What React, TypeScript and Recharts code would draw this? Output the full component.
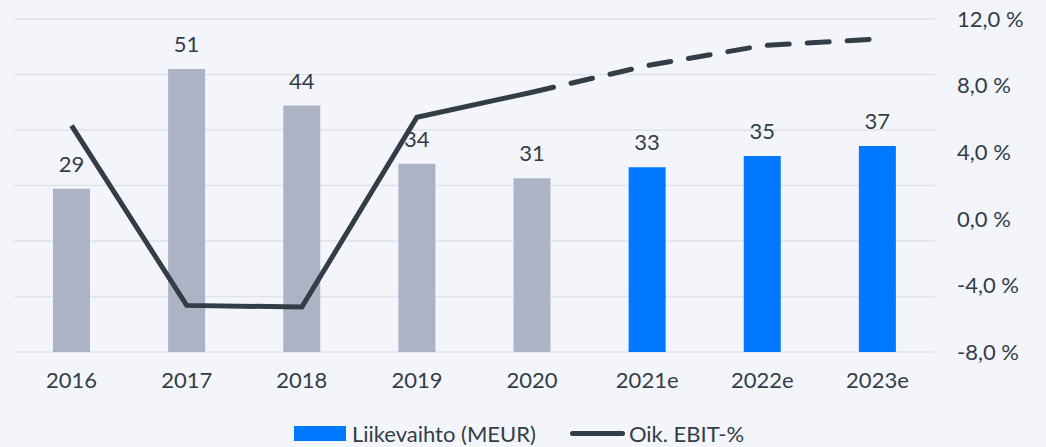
import {
  ComposedChart,
  Bar,
  Line,
  XAxis,
  YAxis,
  CartesianGrid,
  Legend,
  LabelList,
  Cell,
} from 'recharts';

const years = ['2016', '2017', '2018', '2019', '2020', '2021e', '2022e', '2023e'];
const revenue = [29.4, 51.0, 44.4, 33.9, 31.3, 33.3, 35.3, 37.1];
const ebitActual = [5.6, -5.2, -5.3, 6.1, 7.6, null, null, null];
const ebitForecast = [null, null, null, null, 7.6, 9.2, 10.4, 10.8];
const isEstimate = [false, false, false, false, false, true, true, true];
const rightTicks = [-8, -4, 0, 4, 8, 12];
const leftTicks = [0, 10, 20, 30, 40, 50, 60];

const TEXT = '#333d48';
const GREY = '#acb3c5';
const BLUE = '#0078ff';
const FONT = 'Lato, "Open Sans", sans-serif';

const data = years.map((year, i) => ({
  year,
  revenue: revenue[i],
  ebitActual: ebitActual[i],
  ebitForecast: ebitForecast[i],
}));

const fmtPct = (v: number) => `${v.toFixed(1).replace('.', ',')} %`;

const LegendBox = () => (
  <div
    style={{
      display: 'flex',
      justifyContent: 'center',
      alignItems: 'center',
      fontFamily: FONT,
      fontSize: 22,
      color: TEXT,
      paddingRight: 22,
    }}
  >
    <span style={{ display: 'inline-block', width: 52, height: 15, background: BLUE, marginRight: 6 }} />
    <span>Liikevaihto (MEUR)</span>
    <span
      style={{
        display: 'inline-block',
        width: 55,
        height: 5,
        borderRadius: 3,
        background: TEXT,
        marginLeft: 34,
        marginRight: 4,
      }}
    />
    <span>Oik. EBIT-%</span>
  </div>
);

export default function App() {
  return (
    <div style={{ position: 'absolute', left: 0, top: 0, width: 1046, height: 447, background: '#f3f5fa' }}>
      <ComposedChart
        width={1046}
        height={447}
        data={data}
        margin={{ top: 19, right: 0, bottom: 0, left: 14 }}
        style={{ fontFamily: FONT }}
      >
        <CartesianGrid yAxisId="left" vertical={false} stroke="#dfe3ea" strokeWidth={1.5} />
        <XAxis
          dataKey="year"
          axisLine={false}
          tickLine={false}
          tickMargin={14}
          height={55}
          tick={{ fill: TEXT, fontSize: 22 }}
        />
        <YAxis yAxisId="left" hide domain={[0, 60]} ticks={leftTicks} />
        <YAxis
          yAxisId="right"
          orientation="right"
          domain={[-8, 12]}
          ticks={rightTicks}
          axisLine={false}
          tickLine={false}
          tickMargin={16}
          width={111}
          tickFormatter={fmtPct}
          tick={{ fill: TEXT, fontSize: 22, textAnchor: 'start' }}
        />
        <Legend
          verticalAlign="bottom"
          height={40}
          content={<LegendBox />}
          wrapperStyle={{ top: 420, bottom: 'auto' }}
        />
        <Bar yAxisId="left" dataKey="revenue" barSize={37} isAnimationActive={false}>
          {data.map((_entry, index) => (
            <Cell key={`cell-${index}`} fill={isEstimate[index] ? BLUE : GREY} />
          ))}
          <LabelList
            dataKey="revenue"
            position="top"
            offset={17}
            fill={TEXT}
            fontSize={22}
            formatter={(v: any) => Number(v).toFixed(0)}
          />
        </Bar>
        <Line
          yAxisId="right"
          dataKey="ebitActual"
          stroke={TEXT}
          strokeWidth={5}
          dot={false}
          activeDot={false}
          isAnimationActive={false}
        />
        <Line
          yAxisId="right"
          dataKey="ebitForecast"
          stroke={TEXT}
          strokeWidth={5}
          strokeDasharray="22 18"
          strokeLinecap="round"
          dot={false}
          activeDot={false}
          isAnimationActive={false}
        />
      </ComposedChart>
    </div>
  );
}
